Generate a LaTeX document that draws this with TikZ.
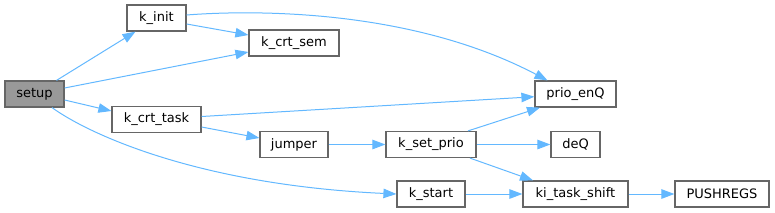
\documentclass[tikz,border=0pt]{standalone}
\usepackage{fontspec}
\setmainfont{DejaVu Sans}
\usetikzlibrary{arrows.meta}
\definecolor{edgeblue}{HTML}{63B8FF}
\definecolor{nodeborder}{HTML}{666666}
\definecolor{rootfill}{HTML}{999999}
\tikzset{
  box/.style={draw=nodeborder, line width=1.2pt, fill=white, rectangle,
    minimum height=26pt, inner sep=0pt, font=\fontsize{13}{15}\selectfont, text=black},
  rootbox/.style={box, fill=rootfill},
  edge/.style={draw=edgeblue, line width=1pt, -{Triangle[length=13pt,width=9.5pt]}}
}
\begin{document}
\begin{tikzpicture}[x=1pt,y=-1pt]
\useasboundingbox (0,0) rectangle (775,212);
\node[rootbox, minimum width=59pt] (setup) at (34.5,94) {setup};
\node[box, minimum width=59pt] (kinit) at (156.5,18) {k\_init};
\node[box, minimum width=90pt] (kcrtsem) at (294,43) {k\_crt\_sem};
\node[box, minimum width=89pt] (kcrttask) at (156.5,119.5) {k\_crt\_task};
\node[box, minimum width=68pt] (jumper) at (294,144.5) {jumper};
\node[box, minimum width=81pt] (prioenq) at (575.5,94) {prio\_enQ};
\node[box, minimum width=90pt] (ksetprio) at (431,144.5) {k\_set\_prio};
\node[box, minimum width=49pt] (deq) at (575.5,144.5) {deQ};
\node[box, minimum width=68pt] (kstart) at (431,194) {k\_start};
\node[box, minimum width=105pt] (kitask) at (575.5,194) {ki\_task\_shift};
\node[box, minimum width=94pt] (pushregs) at (722,194) {PUSHREGS};

\draw[edge] ([xshift=22pt]setup.north) -- ([xshift=-21pt]kinit.south);
\draw[edge] ([yshift=6pt]setup.east) -- ([yshift=-9pt]kcrtsem.west);
\draw[edge] ([yshift=-6pt]setup.east) -- ([yshift=8.5pt]kcrttask.west);
\draw[edge] ([xshift=17.5pt]setup.south) .. controls (90,135) and (200,185) .. (kstart.west);
\draw[edge] ([yshift=-6pt]kinit.east) -- ([yshift=8pt]kcrtsem.west);
\draw[edge] ([yshift=3pt]kinit.east) .. controls (250,10) and (410,8) .. ([xshift=-28pt]prioenq.north);
\draw[edge] ([yshift=3pt]kcrttask.east) -- ([yshift=-2.7pt]prioenq.west);
\draw[edge] ([yshift=-7.5pt]kcrttask.east) -- ([yshift=6.5pt]jumper.west);
\draw[edge] (jumper.east) -- (ksetprio.west);
\draw[edge] ([xshift=37pt]ksetprio.north) -- ([xshift=-35.5pt]prioenq.south);
\draw[edge] (ksetprio.east) -- (deq.west);
\draw[edge] ([xshift=39pt]ksetprio.south) -- ([xshift=-42.5pt]kitask.north);
\draw[edge] (kstart.east) -- (kitask.west);
\draw[edge] (kitask.east) -- (pushregs.west);
\end{tikzpicture}
\end{document}
